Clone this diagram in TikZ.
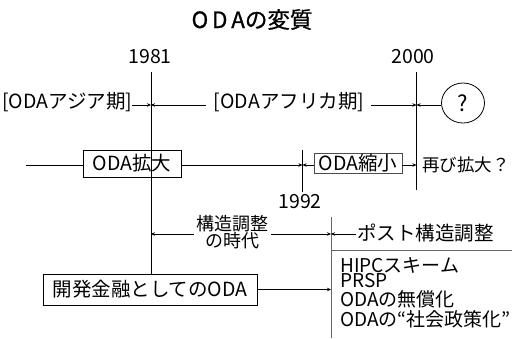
\documentclass[tikz,border=0pt]{standalone}
\usepackage{fontspec}
\setmainfont{Noto Sans CJK JP}
\newfontfamily\ttlfont{Noto Sans CJK JP}[FakeBold=0.8]
\newcommand\tightlines{\lineskiplimit-30pt\relax}
\usetikzlibrary{arrows.meta,shapes.geometric}
\begin{document}
\begin{tikzpicture}[x=1pt,y=-1pt,
  txt/.style={inner sep=0pt,font=\fontsize{19.5}{20}\selectfont},
  boxed/.style={draw,line width=0.8pt,inner sep=0pt,font=\fontsize{19.5}{20}\selectfont},
  ln/.style={line width=0.8pt},
  gln/.style={line width=0.8pt,draw=black!60},
  arr/.style={line width=0.8pt,-{Stealth[length=4pt,width=3.5pt]}}]
\useasboundingbox (0,0) rectangle (512,338);
% title
\node[inner sep=0pt,font=\ttlfont\fontsize{22.5}{24}\selectfont] (title) at (252,19.5) {O\,D\,Aの変質};
% years
\node[txt] (y1981) at (150,57) {1981};
\node[txt] (y2000) at (413,57) {2000};
\node[txt] (y1992) at (300,202) {1992};
% vertical line anchors
\coordinate (t81) at (151,72);
\coordinate (t00) at (416.5,72);
\coordinate (b00) at (416.5,190);
\coordinate (t92) at (302.5,150);
\coordinate (b92) at (302.5,192);
\coordinate (tp) at (331,217);
\coordinate (bp) at (331,338);
\coordinate (hp) at (331,250);
\coordinate (hr) at (512,250);
% row 1
\node[txt,anchor=west] (asia) at (2,102.5) {[ODAアジア期]};
\node[txt] (africa) at (289,102.5) {[ODAアフリカ期]};
\node[draw,ellipse,line width=0.8pt,minimum width=43pt,minimum height=40pt,inner sep=0pt,font=\fontsize{22}{24}\selectfont] (q) at (463,103) {?};
% row 2
\coordinate (l0) at (26,165);
\node[boxed,minimum width=98pt,minimum height=27pt] (kakudai) at (132,163.5) {ODA拡大};
\node[boxed,draw=black!70,minimum width=88pt,minimum height=20pt] (shukusho) at (358,163.5) {ODA縮小};
\node[txt,anchor=west,font=\fontsize{17.5}{18}\selectfont] (again) at (422,165) {再び拡大？};
% row 3
\node[txt,align=center,font=\fontsize{18}{17.5}\selectfont\tightlines] (kouzou) at (232,232) {構造調整\\の時代};
\node[txt,anchor=west] (post) at (357,233) {ポスト構造調整};
\node[boxed,minimum width=214pt,minimum height=31pt] (kaihatsu) at (150,289.5) {開発金融としてのODA};
% list
\node[txt,anchor=base west,align=left,font=\fontsize{19}{19.5}\selectfont\tightlines] (list) at (340,326)
  {HIPCスキーム\\[-5pt]PRSP\\ODAの無償化\\ODAの“社会政策化”};
% lines
\draw[ln] (t81) -- (kaihatsu.north -| t81);
\draw[ln] (t00) -- (b00);
\draw[ln] (t92) -- (b92);
\draw[gln] (tp) -- (bp);
\draw[gln] (hp) -- (hr);
% row 1 arrows
\draw[arr] (asia.east |- 0,105) -- (t81 |- 0,105);
\draw[arr,shorten <=8pt] (africa.west |- 0,105) -- (t81 |- 0,105);
\draw[arr,shorten <=7pt] (africa.east |- 0,105) -- (t00 |- 0,105);
\draw[arr] (q.west |- 0,105) -- (t00 |- 0,105);
% row 2
\draw[ln] (l0) -- (kakudai.west |- l0);
\draw[arr] (kakudai.east |- l0) -- (t92 |- l0);
\draw[arr] (shukusho.west |- l0) -- (t92 |- l0);
\draw[arr] (shukusho.east |- l0) -- (t00 |- l0);
% row 3
\draw[arr,shorten <=2pt] (kouzou.west |- 0,234) -- (t81 |- 0,234);
\draw[arr,shorten <=3pt] (kouzou.east |- 0,234) -- (tp |- 0,234);
\draw[arr,shorten <=1pt] (post.west |- 0,234) -- (tp |- 0,234);
\draw[arr] (kaihatsu.east) -- (tp |- kaihatsu.east);
\end{tikzpicture}
\end{document}
